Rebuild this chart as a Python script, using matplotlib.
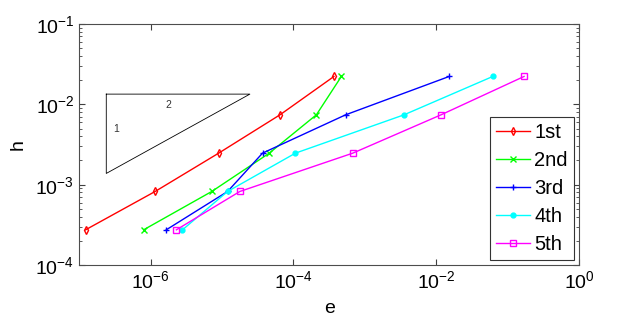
import matplotlib.pyplot as plt
import matplotlib.ticker as mticker

plt.rcParams['font.family'] = ['Liberation Sans', 'DejaVu Sans']
plt.rcParams['mathtext.fontset'] = 'custom'
plt.rcParams['mathtext.rm'] = 'Liberation Sans'

# step sizes (same for every order)
h = [1/45, 1/135, 1/405, 1/1215, 1/3645]

# errors for each order
e_1st = [3.7e-4, 6.5e-5, 9.0e-6, 1.16e-6, 1.23e-7]
e_2nd = [4.7e-4, 2.1e-4, 4.6e-5, 7.2e-6, 8.0e-7]
e_3rd = [1.52e-2, 5.4e-4, 3.7e-5, 1.2e-5, 1.66e-6]
e_4th = [6.2e-2, 3.55e-3, 1.07e-4, 1.2e-5, 2.8e-6]
e_5th = [1.7e-1, 1.17e-2, 6.8e-4, 1.78e-5, 2.3e-6]

labels = ['1st', '2nd', '3rd', '4th', '5th']

# slope triangle corners (e, h)
tri_e = [2.4e-7, 2.46e-5, 2.4e-7, 2.4e-7]
tri_h = [1.34e-2, 1.34e-2, 1.38e-3, 1.34e-2]

fig = plt.figure(figsize=(6.28, 3.24), dpi=100)
ax = fig.add_axes([0.126, 0.182, 0.796, 0.744])

ax.loglog(e_1st, h, '-d', color=(1, 0, 0), lw=1, ms=4, mfc='none', label=labels[0])
ax.loglog(e_2nd, h, '-x', color=(0, 1, 0), lw=1, ms=4, label=labels[1])
ax.loglog(e_3rd, h, '-+', color=(0, 0, 1), lw=1, ms=5, label=labels[2])
ax.loglog(e_4th, h, '-o', color=(0, 1, 1), lw=1, ms=3.5, label=labels[3])
ax.loglog(e_5th, h, '-s', color=(1, 0, 1), lw=1, ms=5, mfc='none', label=labels[4])

# slope triangle
ax.plot(tri_e, tri_h, color='black', lw=0.6)
ax.text(3.3e-7, 5.0e-3, '1', fontsize=7.5, color='0.2', ha='center', va='center')
ax.text(1.77e-6, 9.8e-3, '2', fontsize=7.5, color='0.2', ha='center', va='center')

ax.set_xlim(1e-7, 1)
ax.set_ylim(1e-4, 1e-1)
ax.xaxis.set_major_locator(mticker.FixedLocator([1e-6, 1e-4, 1e-2, 1]))
ax.xaxis.set_minor_locator(mticker.NullLocator())
ax.yaxis.set_major_locator(mticker.FixedLocator([1e-4, 1e-3, 1e-2, 1e-1]))
ax.yaxis.set_minor_locator(mticker.LogLocator(base=10, subs=range(2, 10)))
ax.tick_params(which='both', direction='in', top=True, right=True, colors='0.25',
               labelcolor='black', labelsize=14)
ax.tick_params(which='major', length=4)
ax.tick_params(which='minor', length=2)
for s in ax.spines.values():
    s.set_color('0.3')

ax.set_xlabel('e', fontsize=14, labelpad=6)
ax.set_ylabel('h', fontsize=14, labelpad=6)

leg = ax.legend(loc='lower right', fontsize=14.5, fancybox=False, framealpha=1,
                edgecolor='0.2', handlelength=1.7, handletextpad=0.2,
                borderaxespad=0.25, labelspacing=0.45, borderpad=0.3)
leg.get_frame().set_linewidth(0.8)

plt.savefig('out.png', dpi=100)
